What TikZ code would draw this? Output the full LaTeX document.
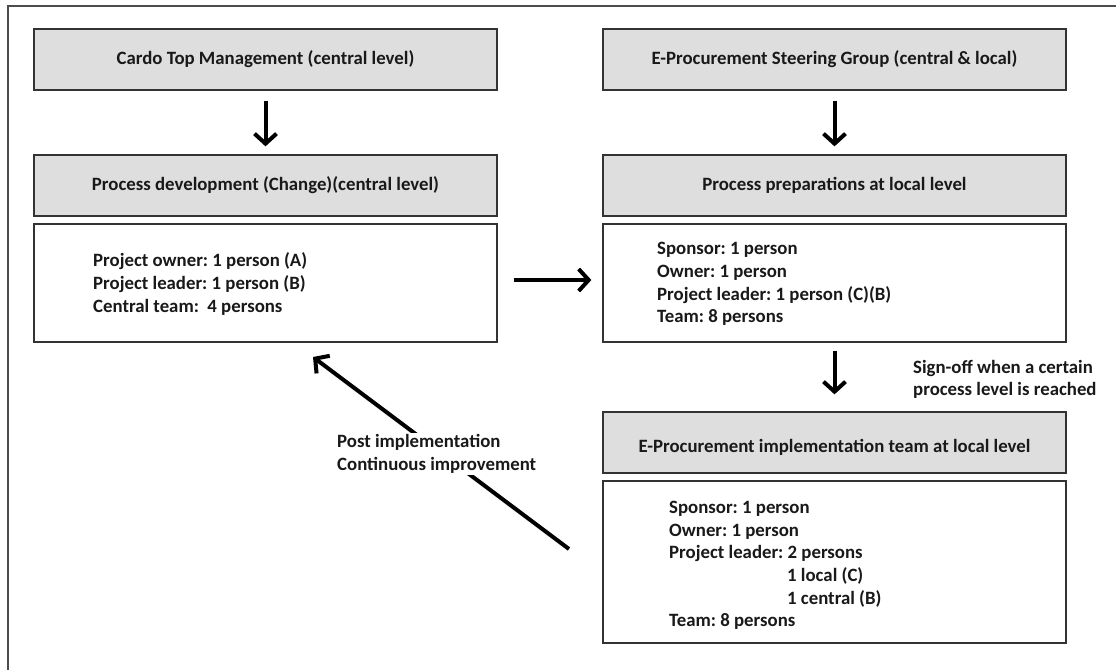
\documentclass[tikz,border=0pt]{standalone}
\usepackage{fontspec}
\setmainfont{Carlito}
\usetikzlibrary{arrows.meta}
\frenchspacing
\begin{document}
\begin{tikzpicture}[x=1pt,y=-1pt,
  every node/.style={font=\fontsize{18.8}{22.7}\selectfont\bfseries\frenchspacing, text=black!90},
  graybox/.style={draw=black!80, line width=1.3pt, fill=black!13, minimum width=463pt, minimum height=61pt, inner sep=0pt},
  whitebox/.style={draw=black!80, line width=1.3pt, fill=white, minimum width=463pt, inner sep=0pt},
  arr/.style={line width=4pt, -{Straight Barb[length=10pt,width=22pt,line width=4pt]}},
  lbl/.style={align=left, inner sep=0pt}
]
\useasboundingbox (0,0) rectangle (1116,670);
\fill[white] (0,0) rectangle (1116,670);
\draw[black!70, line width=1.3pt] (8,670) -- (8,6) -- (1116,6);

% left column
\node[graybox] (b1) at (265.5,59.5) {Cardo Top Management (central level)};
\node[graybox] (b2) at (265.5,185.5) {Process development (Change)(central level)};
\node[whitebox, minimum height=118pt] (b3) at (265.5,283) {};
\node[lbl, anchor=west] (t3) at (93,284) {Project owner: 1 person (A)\\Project leader: 1 person (B)\\Central team:\ \ 4 persons};

% right column
\node[graybox] (b4) at (834.5,59.5) {E-Procurement Steering Group (central \& local)};
\node[graybox] (b5) at (834.5,185.5) {Process preparations at local level};
\node[whitebox, minimum height=118pt] (b6) at (834.5,283) {};
\node[lbl, anchor=west] (t6) at (657,284) {Sponsor: 1 person\\Owner: 1 person\\Project leader: 1 person (C)(B)\\Team: 8 persons};

\node[graybox] (b7) at (834.5,442.5) {};
\node[inner sep=0pt] (t7) at ([yshift=-4.5pt]b7.center) {E-Procurement implementation team at local level};
\node[whitebox, minimum height=162pt] (b8) at (834.5,562) {};
\node[lbl, anchor=west] (t8) at (669,565.5) {Sponsor: 1 person\\Owner: 1 person\\Project leader: 2 persons\\\hspace*{118pt}1 local (C)\\\hspace*{118pt}1 central (B)\\Team: 8 persons};

% arrows
\draw[arr, shorten <=10pt, shorten >=8pt] (b1) -- (b2);
\draw[arr, shorten <=10pt, shorten >=8pt] (b4) -- (b5);
\draw[arr, shorten <=8pt, shorten >=17pt] (b6.south) -- (b7.north);
\draw[arr, shorten <=16pt, shorten >=11pt] ([yshift=3pt]b3.east) -- ([yshift=3pt]b6.west);
\node[lbl, anchor=west] (sign) at (913,379.5) {Sign-off when a certain\\process level is reached};

\coordinate (d1) at (569,549);
\coordinate (d2) at (313,357);
\draw[arr] (d1) -- (d2);
\node[lbl, anchor=west, fill=white, inner sep=2pt] (post) at (335,454) {Post implementation\\Continuous improvement};
\end{tikzpicture}
\end{document}
